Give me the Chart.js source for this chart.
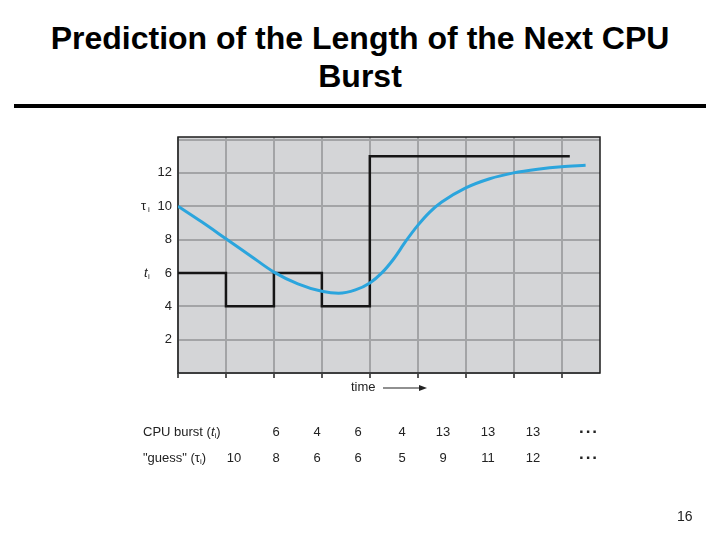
<!DOCTYPE html>
<html>
<head>
<meta charset="utf-8">
<script src="https://cdn.jsdelivr.net/npm/chart.js@4"></script>
<style>
  body { margin:0; width:720px; height:540px; position:relative; background:#fff; overflow:hidden;
         font-family:"Liberation Sans", Arial, sans-serif; }
  #title { position:absolute; left:0; top:19px; width:720px; text-align:center; font-weight:bold;
           font-size:32px; line-height:38px; color:#000; }
  #rule { position:absolute; left:14px; top:104px; width:692px; height:4px; background:#000; }
  canvas { position:absolute; left:0; top:0; }
  .t { position:absolute; font-size:13px; color:#222; white-space:nowrap; line-height:16px; }
  .c { transform:translateX(-50%); }
  .dots { font-size:17px; font-weight:bold; letter-spacing:2px; }
  sub { font-size:8px; vertical-align:-2px; }
  #page { left:677px; top:508px; font-size:14px; }
</style>
</head>
<body>
<div id="title">Prediction of the Length of the Next CPU<br>Burst</div>
<div id="rule"></div>
<canvas id="chart" width="720" height="540"></canvas>
<div id="table"></div>
<div id="page" class="t">16</div>
<script>
// table values (CPU burst t_i and guess tau_i)
const cpuBurst = [6, 4, 6, 4, 13, 13, 13];
const guesses = [10, 8, 6, 6, 5, 9, 11, 12];
const burstLineEnd = 8.17; // last burst step runs on past the grid
// blue prediction curve
const curveTime  = [0, 0.5, 1, 1.5, 2, 2.5, 3, 3.35, 3.7, 4, 4.25, 4.5, 4.75, 5, 5.25, 5.5, 6, 6.5, 7, 7.5, 8, 8.5];
const curveValue = [10, 9.05, 8.05, 7.05, 6.05, 5.35, 4.9, 4.78, 4.98, 5.4, 6.0, 6.85, 7.9, 8.85, 9.65, 10.25, 11.1, 11.65, 12.0, 12.22, 12.37, 12.45];
const yTicks = [2, 4, 6, 8, 10, 12];

const FONT = '"Liberation Sans", Arial, sans-serif';

// table under the plot
const colX = [234, 276, 317, 358, 402, 443, 488, 533];
const dotsX = 589;
function cell(html, x, y, cls) {
  const d = document.createElement('div');
  d.className = 't ' + (cls || '');
  d.style.left = x + 'px';
  d.style.top = y + 'px';
  d.innerHTML = html;
  document.getElementById('table').appendChild(d);
}
cell('CPU burst (<i>t</i><sub>i</sub>)', 143, 424);
cpuBurst.forEach((v, i) => cell(String(v), colX[i + 1], 424, 'c'));
cell('...', dotsX, 420, 'c dots');
cell('"guess" (&tau;<sub>i</sub>)', 143, 450);
guesses.forEach((v, i) => cell(String(v), colX[i], 450, 'c'));
cell('...', dotsX, 446, 'c dots');

// gray panel, frame, side labels and time arrow
const decor = {
  id: 'decor',
  beforeDraw(chart) {
    const a = chart.chartArea, ctx = chart.ctx;
    ctx.save();
    ctx.fillStyle = '#d4d5d7';
    ctx.fillRect(a.left, a.top, a.right - a.left, a.bottom - a.top);
    ctx.restore();
  },
  beforeDatasetsDraw(chart) {
    const a = chart.chartArea, ctx = chart.ctx;
    ctx.save();
    ctx.strokeStyle = '#1c1c1c';
    ctx.lineWidth = 1.5;
    ctx.strokeRect(a.left, a.top, a.right - a.left, a.bottom - a.top);
    ctx.restore();
  },
  afterDraw(chart) {
    const ctx = chart.ctx, y = chart.scales.y;
    ctx.save();
    ctx.fillStyle = '#222';
    ctx.textBaseline = 'middle';
    ctx.font = '13px ' + FONT;
    ctx.fillText('\u03C4', 141, y.getPixelForValue(10));
    ctx.font = 'italic 13px ' + FONT;
    ctx.fillText('t', 144, y.getPixelForValue(6));
    ctx.font = '8px ' + FONT;
    ctx.fillText('i', 148, y.getPixelForValue(10) + 4);
    ctx.fillText('i', 148, y.getPixelForValue(6) + 4);
    // time arrow
    ctx.font = '13px ' + FONT;
    ctx.fillText('time', 351, 387);
    ctx.strokeStyle = '#222';
    ctx.lineWidth = 1.2;
    ctx.beginPath();
    ctx.moveTo(383, 388); ctx.lineTo(421, 388);
    ctx.stroke();
    ctx.beginPath();
    ctx.moveTo(427, 388); ctx.lineTo(419, 385); ctx.lineTo(419, 391); ctx.closePath();
    ctx.fill();
    ctx.restore();
  }
};

new Chart(document.getElementById('chart'), {
  type: 'line',
  data: {
    datasets: [
      {
        label: 'guess',
        data: curveTime.map((t, i) => ({ x: t, y: curveValue[i] })),
        borderColor: '#2ba5dd',
        borderWidth: 3,
        pointRadius: 0,
        cubicInterpolationMode: 'monotone',
        fill: false
      },
      {
        label: 'CPU burst',
        data: cpuBurst.map((v, i) => ({ x: i, y: v }))
          .concat([{ x: burstLineEnd, y: cpuBurst[cpuBurst.length - 1] }]),
        stepped: 'before',
        borderColor: '#151515',
        borderWidth: 2.5,
        pointRadius: 0,
        fill: false
      }
    ]
  },
  options: {
    responsive: false,
    animation: false,
    layout: { padding: { left: 148, right: 120, top: 137, bottom: 0 } },
    plugins: { legend: { display: false }, tooltip: { enabled: false } },
    scales: {
      x: {
        type: 'linear', min: 0, max: 8.8,
        ticks: { stepSize: 1, display: false, includeBounds: false },
        grid: { color: '#a3a4a6', lineWidth: 2, tickLength: 5, tickColor: '#222', tickWidth: 1.5 },
        border: { display: false },
        afterFit(s) { s.height = 167; }
      },
      y: {
        min: 0, max: 14.15,
        ticks: {
          stepSize: 2, padding: 6, color: '#222', includeBounds: false,
          font: { family: FONT, size: 13 },
          callback: v => yTicks.includes(v) ? v : ''
        },
        grid: { color: '#a3a4a6', lineWidth: 2, drawTicks: false },
        border: { display: false },
        afterFit(s) { s.width = 30; }
      }
    }
  },
  plugins: [decor]
});
</script>
</body>
</html>
